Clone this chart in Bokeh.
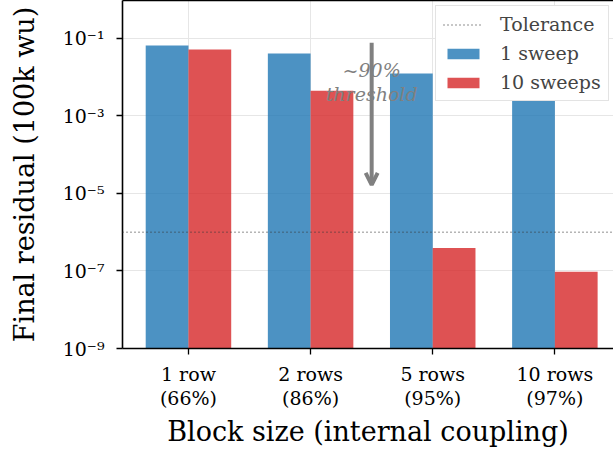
import numpy as np
from bokeh.plotting import figure
from bokeh.models import (FixedTicker, CustomJSTickFormatter, Span, Arrow, OpenHead,
                          LinearAxis, Legend, LegendItem, ColumnDataSource)
from bokeh.transform import dodge
from bokeh.core.properties import value
from bokeh.embed import file_html
from bokeh.resources import INLINE

# ---- data ----
categories = ["1 row", "2 rows", "5 rows", "10 rows"]
coupling = ["66%", "86%", "95%", "97%"]
sweep1 = [0.066, 0.041, 0.0124, 0.004]
sweep10 = [0.052, 0.0045, 3.9e-7, 9.5e-8]
tolerance = 1e-6
y_ticks = [1e-9, 1e-7, 1e-5, 1e-3, 1e-1]

# annotation (threshold arrow between 2 rows and 5 rows)
annot_x = 1.5
annot_y_start = 10 ** -1.11
annot_y_end = 10 ** -4.78
annot_text_y = 10 ** -2.12

FONT = "DejaVu Serif"
BLUE = "#1f77b4"
RED = "#d62728"

xs = list(range(len(categories)))
src = ColumnDataSource(dict(x=xs, s1=sweep1, s10=sweep10))

p = figure(width=613, height=453, y_axis_type="log",
           x_range=(-0.54, 3.48), y_range=(1e-9, 10 ** -0.02),
           output_backend="svg", toolbar_location=None,
           min_border_left=122, min_border_right=0, min_border_top=0, min_border_bottom=105)
p.outline_line_color = None
p.background_fill_color = "white"

# grid
p.xgrid.ticker = FixedTicker(ticks=xs)
p.grid.grid_line_color = "#e6e6e6"
p.grid.grid_line_width = 1

# bars
r1 = p.vbar(x=dodge("x", -0.175), top="s1", bottom=1e-9, width=0.35, source=src,
            fill_color=BLUE, fill_alpha=0.8, line_color=None)
r10 = p.vbar(x=dodge("x", 0.175), top="s10", bottom=1e-9, width=0.35, source=src,
             fill_color=RED, fill_alpha=0.8, line_color=None)

# tolerance line
TOL_STYLE = dict(line_color="#3a3a3a", line_alpha=0.75, line_width=1.5, line_dash="1 3")
p.add_layout(Span(location=tolerance, dimension="width", **TOL_STYLE))
tol_r = p.line(x=[np.nan, np.nan], y=[tolerance, tolerance], **TOL_STYLE)

# threshold annotation
p.text(x=[annot_x], y=[annot_text_y], text=["~90%\nthreshold"],
       text_font=value(FONT), text_font_style="italic", text_font_size="19px",
       text_color="#808080", text_align="center", text_baseline="middle",
       text_line_height=1.1)
p.add_layout(Arrow(x_start=annot_x, y_start=annot_y_start, x_end=annot_x, y_end=annot_y_end,
                   line_color="#808080", line_width=4,
                   end=OpenHead(size=12, line_color="#808080", line_width=4)))

# axes
xlabels = {i: f"{c}\n({k})" for i, (c, k) in enumerate(zip(categories, coupling))}
p.xaxis.ticker = FixedTicker(ticks=xs)
p.xaxis.major_label_overrides = xlabels
p.xaxis.axis_label = "Block size (internal coupling)"

p.yaxis.ticker = FixedTicker(ticks=y_ticks)
p.yaxis.formatter = CustomJSTickFormatter(code="""
const sup = {'-':'\u207b','0':'\u2070','1':'\u00b9','2':'\u00b2','3':'\u00b3','4':'\u2074',
             '5':'\u2075','6':'\u2076','7':'\u2077','8':'\u2078','9':'\u2079'};
const e = Math.round(Math.log10(tick));
return '10' + String(e).split('').map(c => sup[c]).join('');
""")
p.yaxis.axis_label = "Final residual (100k wu)"

for ax in (p.xaxis, p.yaxis):
    ax.axis_line_color = "black"
    ax.axis_line_width = 1.6
    ax.major_tick_line_color = "black"
    ax.major_tick_line_width = 1.3
    ax.major_tick_out = 6
    ax.major_tick_in = 0
    ax.minor_tick_line_color = None
    ax.major_label_text_font = FONT
    ax.major_label_text_font_size = "19px"
    ax.major_label_text_color = "black"
    ax.axis_label_text_font = FONT
    ax.axis_label_text_font_size = "27px"
    ax.axis_label_text_font_style = "normal"
    ax.axis_label_text_color = "black"
p.xaxis.major_label_text_line_height = 1.1
p.xaxis.major_label_standoff = 8
p.yaxis.major_label_standoff = 12
p.xaxis.axis_label_standoff = 4
p.yaxis.axis_label_standoff = 20

# top border
top_axis = LinearAxis(ticker=FixedTicker(ticks=[]), major_label_text_font_size="0px",
                      axis_line_width=1.6, axis_line_color="black",
                      major_tick_line_color=None, minor_tick_line_color=None)
p.add_layout(top_axis, "above")

legend = Legend(items=[LegendItem(label="Tolerance", renderers=[tol_r]),
                       LegendItem(label="1 sweep", renderers=[r1]),
                       LegendItem(label="10 sweeps", renderers=[r10])],
                location=(313, 247), margin=0, padding=7, spacing=7,
                glyph_width=40, glyph_height=13, label_height=21, label_standoff=17,
                label_text_font=FONT, label_text_font_size="19px",
                border_line_color="#c8c8c8", border_line_width=1.5,
                background_fill_color="white", background_fill_alpha=1)
p.add_layout(legend)

open("out.html", "w").write(file_html(p, INLINE))
